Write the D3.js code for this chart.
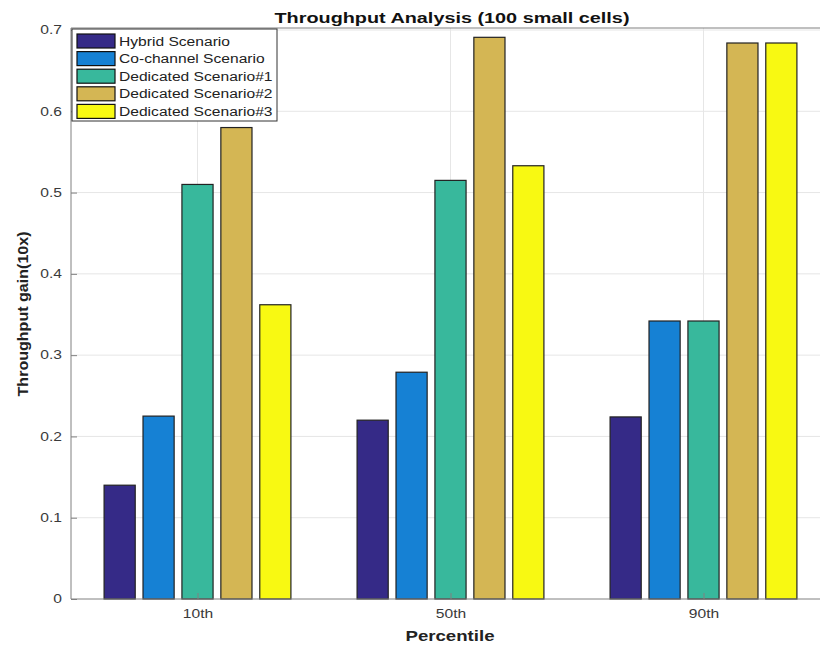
<!DOCTYPE html>
<html>
<head>
<meta charset="utf-8">
<script src="https://cdn.jsdelivr.net/npm/d3@7"></script>
<style>
  html, body { margin: 0; padding: 0; background: #fff; }
  svg { display: block; font-family: "Liberation Sans", Arial, sans-serif; }
</style>
</head>
<body>
<svg id="chart" width="820" height="645"></svg>
<script>
// Percentile groups along the x axis
const categories = ["10th", "50th", "90th"];
// Scenario names (one bar per scenario in each group)
const seriesNames = ["Hybrid Scenario", "Co-channel Scenario", "Dedicated Scenario#1", "Dedicated Scenario#2", "Dedicated Scenario#3"];
// Throughput gain per scenario, ordered as categories
const hybrid    = [0.140, 0.220, 0.224];
const cochannel = [0.225, 0.279, 0.342];
const dedicated1 = [0.510, 0.515, 0.342];
const dedicated2 = [0.580, 0.691, 0.684];
const dedicated3 = [0.362, 0.533, 0.684];
const seriesValues = [hybrid, cochannel, dedicated1, dedicated2, dedicated3];
const seriesColors = ["#352a87", "#1681d4", "#38b89c", "#d4b654", "#f8f912"];
const yTicks = [0, 0.1, 0.2, 0.3, 0.4, 0.5, 0.6, 0.7];

const svg = d3.select("#chart");
const plotLeft = 71, plotTop = 30, plotBottom = 599;
// x domain runs 0.5..3.5 like a numeric bar axis; the right end sits past the frame
const x = d3.scaleLinear().domain([0.5, 3.5]).range([plotLeft, plotLeft + 3 * 253]);
const y = d3.scaleLinear().domain([0, 0.7]).range([plotBottom, plotTop]);

const gridColor = "#e6e6e6";
const axisColor = "#808080";
const textColor = "#3a3a3a";

// widen text horizontally by a factor (the figure's lettering is drawn wide)
function widen(sel, factor) {
  sel.each(function () {
    const w = this.getComputedTextLength();
    d3.select(this).attr("textLength", w * factor).attr("lengthAdjust", "spacingAndGlyphs");
  });
}

// grid
svg.append("g").selectAll("line").data(yTicks.slice(1)).join("line")
  .attr("x1", plotLeft).attr("x2", 820)
  .attr("y1", d => y(d)).attr("y2", d => y(d))
  .attr("stroke", gridColor).attr("stroke-width", 1);
svg.append("g").selectAll("line").data(categories).join("line")
  .attr("x1", (d, i) => x(i + 1)).attr("x2", (d, i) => x(i + 1))
  .attr("y1", plotTop - 2).attr("y2", plotBottom)
  .attr("stroke", gridColor).attr("stroke-width", 1);

// bars
const nS = seriesNames.length;
const groupWidth = Math.min(0.8, nS / (nS + 1.5));
const step = groupWidth / nS;
const barW = step * 0.8;
seriesValues.forEach((vals, s) => {
  const off = -groupWidth / 2 + step * (s + 0.5);
  svg.append("g").selectAll("rect").data(vals).join("rect")
    .attr("x", (d, i) => x(i + 1 + off - barW / 2))
    .attr("width", x(barW) - x(0))
    .attr("y", d => y(d))
    .attr("height", d => y(0) - y(d))
    .attr("fill", seriesColors[s])
    .attr("stroke", "#222").attr("stroke-width", 1.2);
});

// top edge of the axes box
svg.append("line").attr("x1", plotLeft).attr("x2", 820).attr("y1", plotTop - 2).attr("y2", plotTop - 2)
  .attr("stroke", axisColor).attr("stroke-width", 1);

const yAxis = d3.axisLeft(y).tickValues(yTicks).tickSize(-6).tickPadding(9)
  .tickFormat(d => d === 0 ? "0" : d3.format(".1f")(d));
const gy = svg.append("g").attr("transform", `translate(${plotLeft},0)`).call(yAxis);
gy.select(".domain").attr("d", `M0,${plotBottom}V${plotTop - 2}`).attr("stroke", axisColor);
gy.selectAll(".tick line").attr("stroke", axisColor);
gy.selectAll("text").attr("fill", textColor).style("font-size", "12px")
  .style("font-family", '"Liberation Sans", Arial, sans-serif')
  .call(widen, 1.3);

const xAxis = d3.axisBottom(x).tickValues([1, 2, 3]).tickSize(-6).tickPadding(10)
  .tickFormat(d => categories[d - 1]);
const gx = svg.append("g").attr("transform", `translate(0,${plotBottom})`).call(xAxis);
gx.select(".domain").attr("d", `M${plotLeft},0H820`).attr("stroke", axisColor);
gx.selectAll(".tick line").attr("stroke", axisColor);
gx.selectAll("text").attr("fill", textColor).style("font-size", "12px")
  .style("font-family", '"Liberation Sans", Arial, sans-serif')
  .call(widen, 1.3);

// titles
svg.append("text").attr("x", 452).attr("y", 23).attr("text-anchor", "middle")
  .attr("font-weight", "bold").attr("font-size", 15).attr("fill", "#111")
  .text("Throughput Analysis (100 small cells)")
  .attr("textLength", 355).attr("lengthAdjust", "spacingAndGlyphs");
svg.append("text").attr("x", 450).attr("y", 641).attr("text-anchor", "middle")
  .attr("font-weight", "bold").attr("font-size", 15).attr("fill", "#222")
  .text("Percentile")
  .attr("textLength", 89).attr("lengthAdjust", "spacingAndGlyphs");
svg.append("text").attr("transform", `translate(28,314) rotate(-90)`)
  .attr("text-anchor", "middle")
  .attr("font-weight", "bold").attr("font-size", 15).attr("fill", "#222")
  .text("Throughput gain(10x)")
  .attr("textLength", 165).attr("lengthAdjust", "spacingAndGlyphs");

// legend
const lg = svg.append("g").attr("transform", "translate(72,29)");
lg.append("rect").attr("width", 205).attr("height", 92)
  .attr("fill", "#fff").attr("stroke", "#333").attr("stroke-width", 1);
seriesNames.forEach((name, i) => {
  const row = lg.append("g").attr("transform", `translate(0,${5 + i * 17.6})`);
  row.append("rect").attr("x", 5).attr("y", 0).attr("width", 38).attr("height", 14)
    .attr("fill", seriesColors[i]).attr("stroke", "#111").attr("stroke-width", 1.2);
  row.append("text").attr("x", 47).attr("y", 11.5).attr("font-size", 12)
    .attr("fill", "#222").text(name)
    .call(widen, 1.3);
});
</script>
</body>
</html>
